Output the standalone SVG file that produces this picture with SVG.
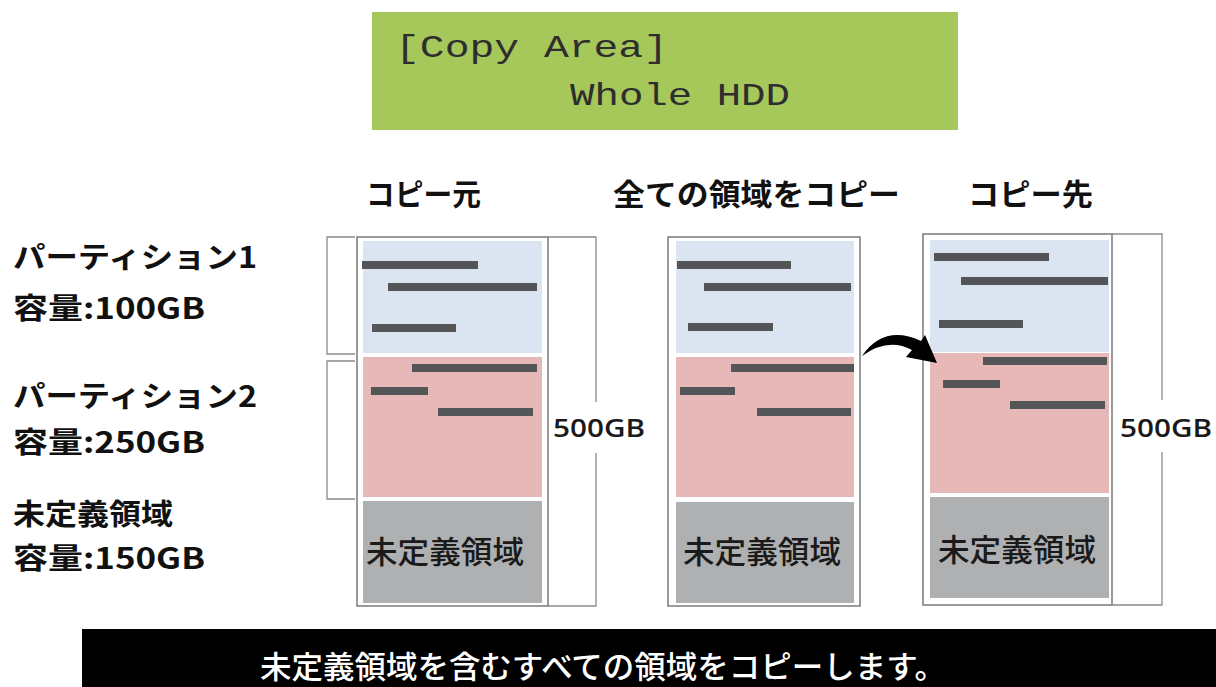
<svg xmlns="http://www.w3.org/2000/svg" width="1216" height="687" viewBox="0 0 1216 687">
<style>
.jp{font-family:"Noto Sans CJK JP","Noto Sans",sans-serif;}
.hd{font-size:30px;font-weight:bold;fill:#111;}
.lb{font-size:29px;font-weight:bold;fill:#111;}
.un{font-size:31px;font-weight:500;fill:#1a1a1a;}
.gb{font-family:"Open Sans","Noto Sans",sans-serif;font-size:26px;font-weight:600;fill:#1a1a1a;}
.lcd{font-family:"Liberation Mono","DejaVu Sans Mono",monospace;font-size:32px;fill:#2e2e2e;}
.box{fill:#fff;stroke:#7a7a7a;stroke-width:1.5;}
.brk{fill:none;stroke:#8a8a8a;stroke-width:1.3;}
.p1{fill:#dbe5f1;}
.p2{fill:#e6b9b8;}
.un-r{fill:#afb0b2;}
.bar{stroke:#545557;stroke-width:8;}
</style>
<rect width="1216" height="687" fill="#fff"/>

<g id="lcd-panel">
<rect x="372" y="12" width="586" height="118" fill="#a6c75a"/>
<text class="lcd" x="395" y="57" textLength="273" lengthAdjust="spacingAndGlyphs">[Copy Area]</text>
<text class="lcd" x="570" y="105" textLength="220" lengthAdjust="spacingAndGlyphs">Whole HDD</text>
</g>

<g id="headers">
<text class="jp hd" x="366" y="205" textLength="115" lengthAdjust="spacingAndGlyphs">コピー元</text>
<text class="jp hd" x="613" y="205" textLength="287" lengthAdjust="spacingAndGlyphs">全ての領域をコピー</text>
<text class="jp hd" x="968" y="205" textLength="125" lengthAdjust="spacingAndGlyphs">コピー先</text>
</g>

<g id="labels">
<text class="jp lb" x="13" y="268" textLength="244" lengthAdjust="spacingAndGlyphs">パーティション1</text>
<text class="jp lb" x="13" y="319" textLength="192" lengthAdjust="spacingAndGlyphs">容量:100GB</text>
<text class="jp lb" x="13" y="407" textLength="244" lengthAdjust="spacingAndGlyphs">パーティション2</text>
<text class="jp lb" x="13" y="453" textLength="192" lengthAdjust="spacingAndGlyphs">容量:250GB</text>
<text class="jp lb" x="13" y="525" textLength="160" lengthAdjust="spacingAndGlyphs">未定義領域</text>
<text class="jp lb" x="13" y="569" textLength="192" lengthAdjust="spacingAndGlyphs">容量:150GB</text>
</g>

<g id="source-disk">
<path class="brk" d="M355,237 H327 V354 H355"/>
<path class="brk" d="M355,361 H327 V499 H355"/>
<rect class="box" x="357" y="237" width="191" height="369"/>
<rect class="p1" x="363" y="241" width="179" height="112"/>
<rect class="p2" x="363" y="357" width="179" height="140"/>
<rect class="un-r" x="363" y="501" width="179" height="102"/>
<line class="bar" x1="362" y1="265" x2="478" y2="265"/>
<line class="bar" x1="388" y1="287" x2="537" y2="287"/>
<line class="bar" x1="372" y1="328" x2="456" y2="328"/>
<line class="bar" x1="412" y1="368" x2="537" y2="368"/>
<line class="bar" x1="371" y1="391" x2="428" y2="391"/>
<line class="bar" x1="438" y1="412" x2="533" y2="412"/>
<text class="jp un" x="445" y="563" text-anchor="middle" textLength="158" lengthAdjust="spacingAndGlyphs">未定義領域</text>
<path class="brk" d="M548,237 H596 V402 M596,453 V606 H548"/>
<text class="gb" x="553" y="437" textLength="92" lengthAdjust="spacingAndGlyphs">500GB</text>
</g>

<g id="whole-copy">
<rect class="box" x="668" y="237" width="192" height="369"/>
<rect class="p1" x="676" y="241" width="178" height="112"/>
<rect class="p2" x="676" y="357" width="178" height="140"/>
<rect class="un-r" x="676" y="502" width="178" height="101"/>
<line class="bar" x1="677" y1="265" x2="791" y2="265"/>
<line class="bar" x1="704" y1="287" x2="851" y2="287"/>
<line class="bar" x1="688" y1="327" x2="773" y2="327"/>
<line class="bar" x1="731" y1="368" x2="854" y2="368"/>
<line class="bar" x1="680" y1="391" x2="735" y2="391"/>
<line class="bar" x1="757" y1="412" x2="851" y2="412"/>
<text class="jp un" x="762" y="563" text-anchor="middle" textLength="158" lengthAdjust="spacingAndGlyphs">未定義領域</text>
</g>

<g id="target-disk">
<rect class="box" x="923" y="234" width="189" height="371"/>
<rect class="p1" x="930" y="240" width="179" height="112"/>
<rect class="p2" x="930" y="353" width="179" height="140"/>
<rect class="un-r" x="930" y="497" width="179" height="101"/>
<line class="bar" x1="934" y1="257" x2="1049" y2="257"/>
<line class="bar" x1="961" y1="281" x2="1108" y2="281"/>
<line class="bar" x1="939" y1="324" x2="1023" y2="324"/>
<line class="bar" x1="983" y1="361" x2="1107" y2="361"/>
<line class="bar" x1="943" y1="384" x2="1000" y2="384"/>
<line class="bar" x1="1010" y1="405" x2="1105" y2="405"/>
<text class="jp un" x="1017" y="561" text-anchor="middle" textLength="158" lengthAdjust="spacingAndGlyphs">未定義領域</text>
<path class="brk" d="M1112,234 H1162 V400 M1162,452 V605 H1112"/>
<text class="gb" x="1120" y="437" textLength="92" lengthAdjust="spacingAndGlyphs">500GB</text>
</g>

<g id="connectors">
<path d="M862,356 Q884,324 921,341 L925,335 L937,363 L906,357 L912,350 Q888,337 862,356 Z" fill="#000"/>
</g>

<g id="footer">
<rect x="82" y="629" width="1134" height="58" fill="#000"/>
<text class="jp" x="260" y="678" font-size="31" font-weight="500" fill="#fff" textLength="686" lengthAdjust="spacingAndGlyphs">未定義領域を含むすべての領域をコピーします。</text>
</g>
</svg>
